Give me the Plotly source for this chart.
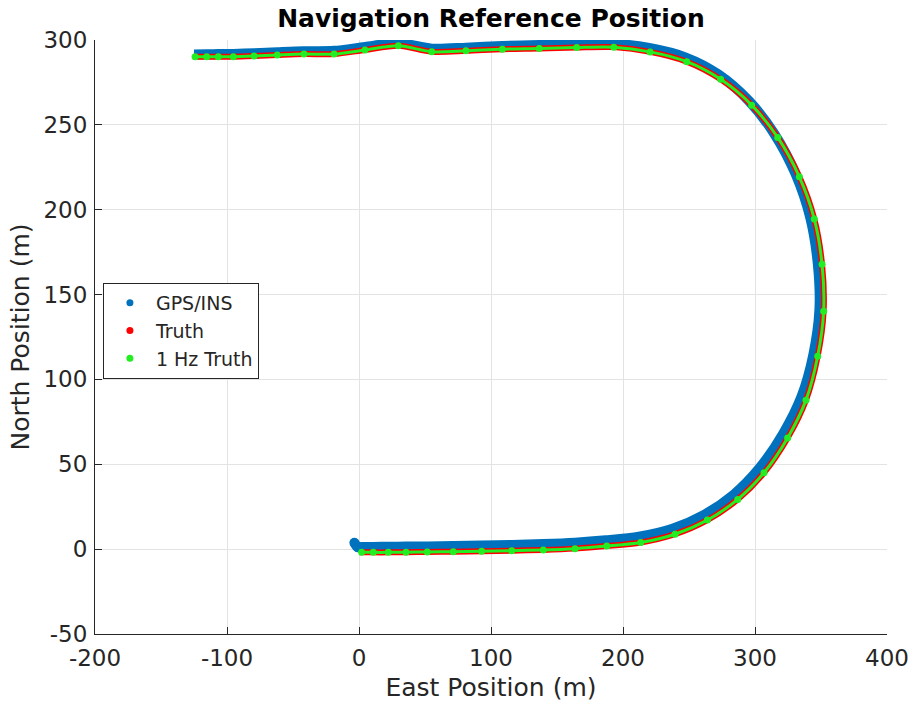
import plotly.graph_objects as go

# 1 Hz truth samples (East, North)
hz_east = [2.0, 10.8, 22.2, 35.6, 51.7, 71.4, 92.9, 115.7, 139.6, 163.6, 187.7, 213.4,
           239.4, 263.9, 286.9, 306.8, 324.7, 338.6, 347.5, 352.0, 350.8, 344.9, 333.6,
           317.2, 297.5, 274.0, 248.3, 220.5, 193.0, 164.9, 136.6, 108.6, 81.0, 55.1,
           29.8, 4.5, -18.9, -41.7, -61.9, -79.5, -95.2, -106.6, -115.4, -124.2]
hz_north = [-1.9, -1.9, -1.9, -1.8, -1.7, -1.5, -1.3, -0.9, -0.5, 0.3, 1.8, 3.9,
            8.8, 17.1, 29.3, 45.0, 65.5, 87.8, 113.7, 140.2, 167.8, 194.6, 219.4,
            242.6, 261.6, 276.8, 287.2, 293.0, 295.8, 295.6, 295.0, 294.6, 293.6, 293.1,
            296.6, 294.1, 291.7, 291.7, 291.1, 290.5, 290.1, 290.1, 290.1, 290.1]

# Truth (dense) path
truth_east = [0.5, 2.0, 10.8, 22.2, 35.6, 51.7, 71.4, 92.9, 115.7, 139.6, 163.6, 187.7, 213.4,
              239.4, 263.9, 286.9, 306.8, 324.7, 338.6, 347.5, 352.0, 350.8, 344.9, 333.6,
              317.2, 297.5, 274.0, 248.3, 220.5, 193.0, 164.9, 136.6, 108.6, 81.0, 55.1,
              29.8, 4.5, -18.9, -41.7, -61.9, -79.5, -95.2, -106.6, -115.4, -124.2, -125.0]
truth_north = [-1.9, -1.9, -1.9, -1.9, -1.8, -1.7, -1.5, -1.3, -0.9, -0.5, 0.3, 1.8, 3.9,
               8.8, 17.1, 29.3, 45.0, 65.5, 87.8, 113.7, 140.2, 167.8, 194.6, 219.4,
               242.6, 261.6, 276.8, 287.2, 293.0, 295.8, 295.6, 295.0, 294.6, 293.6, 293.1,
               296.6, 294.1, 291.7, 291.7, 291.1, 290.5, 290.1, 290.1, 290.1, 290.1, 290.1]

# GPS/INS estimate
gps_east = [-3.5, -1.0, 2.0, 10.8, 22.2, 35.6, 51.7, 71.4, 92.9, 115.7, 139.6, 163.6, 187.0,
            212.0, 237.5, 261.5, 284.0, 303.5, 321.3, 335.3, 344.3, 348.8, 347.6, 341.8,
            330.8, 314.6, 295.3, 272.3, 247.2, 219.8, 192.5, 164.9, 136.6, 108.6, 81.0,
            55.1, 29.8, 4.5, -18.9, -41.7, -61.9, -79.5, -95.2, -106.6, -115.4, -125.0]
gps_north = [3.8, 1.2, 1.3, 1.3, 1.4, 1.5, 1.6, 1.8, 2.1, 2.5, 3.0, 3.8, 5.2,
             7.3, 12.0, 20.2, 32.2, 47.8, 68.0, 90.0, 115.0, 141.0, 168.0, 195.5,
             221.0, 244.8, 264.2, 279.7, 289.8, 295.3, 297.8, 297.6, 297.0, 296.5, 295.5,
             294.9, 298.2, 295.9, 293.6, 293.4, 292.8, 292.2, 291.8, 291.7, 291.6, 291.5]

x_ticks = [-200, -100, 0, 100, 200, 300, 400]
y_ticks = [-50, 0, 50, 100, 150, 200, 250, 300]

BLUE = "#0072BD"
RED = "#FF0000"
GREEN = "#22EE22"
DARK = "#262626"

fig = go.Figure()
fig.add_trace(go.Scatter(x=gps_east, y=gps_north, mode="lines",
                         line=dict(color=BLUE, width=10, shape="spline", smoothing=0.8),
                         showlegend=False))
fig.add_trace(go.Scatter(x=gps_east[:2], y=gps_north[:2], mode="markers",
                         marker=dict(color=BLUE, size=10), showlegend=False))
fig.add_trace(go.Scatter(x=truth_east, y=truth_north, mode="lines",
                         line=dict(color=RED, width=6, shape="spline", smoothing=0.8),
                         showlegend=False))
fig.add_trace(go.Scatter(x=hz_east, y=hz_north, mode="lines+markers",
                         line=dict(color=GREEN, width=3, shape="spline", smoothing=0.8),
                         marker=dict(color=GREEN, size=7), showlegend=False))
# legend entries (dots only)
for name, col in [("GPS/INS", BLUE), ("Truth", RED), ("1 Hz Truth", GREEN)]:
    fig.add_trace(go.Scatter(x=[None], y=[None], mode="markers", name=name,
                             marker=dict(color=col, size=7)))

axis_common = dict(showgrid=True, gridcolor="#E3E3E3", gridwidth=1, zeroline=False,
                   showline=True, linecolor=DARK, linewidth=1, ticks="inside",
                   ticklen=7, tickcolor=DARK, mirror=False, automargin=False)

fig.update_xaxes(range=[-200, 400], tickvals=x_ticks, ticktext=[str(v) for v in x_ticks],
                 tickfont=dict(family="DejaVu Sans", size=23, color=DARK),
                 ticklabelstandoff=3,
                 title=dict(text="East Position (m)", standoff=8,
                            font=dict(family="DejaVu Sans", size=25, color=DARK)),
                 **axis_common)
fig.update_yaxes(range=[-50, 300], tickvals=y_ticks, ticktext=[str(v) for v in y_ticks],
                 tickfont=dict(family="DejaVu Sans", size=23, color=DARK),
                 ticklabelstandoff=2,
                 title=dict(text="North Position (m)", standoff=6,
                            font=dict(family="DejaVu Sans", size=25, color=DARK)),
                 **axis_common)

fig.update_layout(
    width=914, height=707,
    margin=dict(l=95, r=27, t=40, b=73),
    paper_bgcolor="white", plot_bgcolor="white",
    title=dict(text="<b>Navigation Reference Position</b>", x=(95 + 887) / 2 / 914,
               xanchor="center", y=1 - 18 / 707, yanchor="middle", yref="container",
               font=dict(family="DejaVu Sans", size=25, color="black")),
    legend=dict(x=0.01, y=0.591, xanchor="left", yanchor="top", bgcolor="white",
                bordercolor=DARK, borderwidth=1, itemwidth=42, tracegroupgap=0,
                font=dict(family="DejaVu Sans", size=19, color=DARK)),
    showlegend=True,
)

fig.write_html("out.html")
